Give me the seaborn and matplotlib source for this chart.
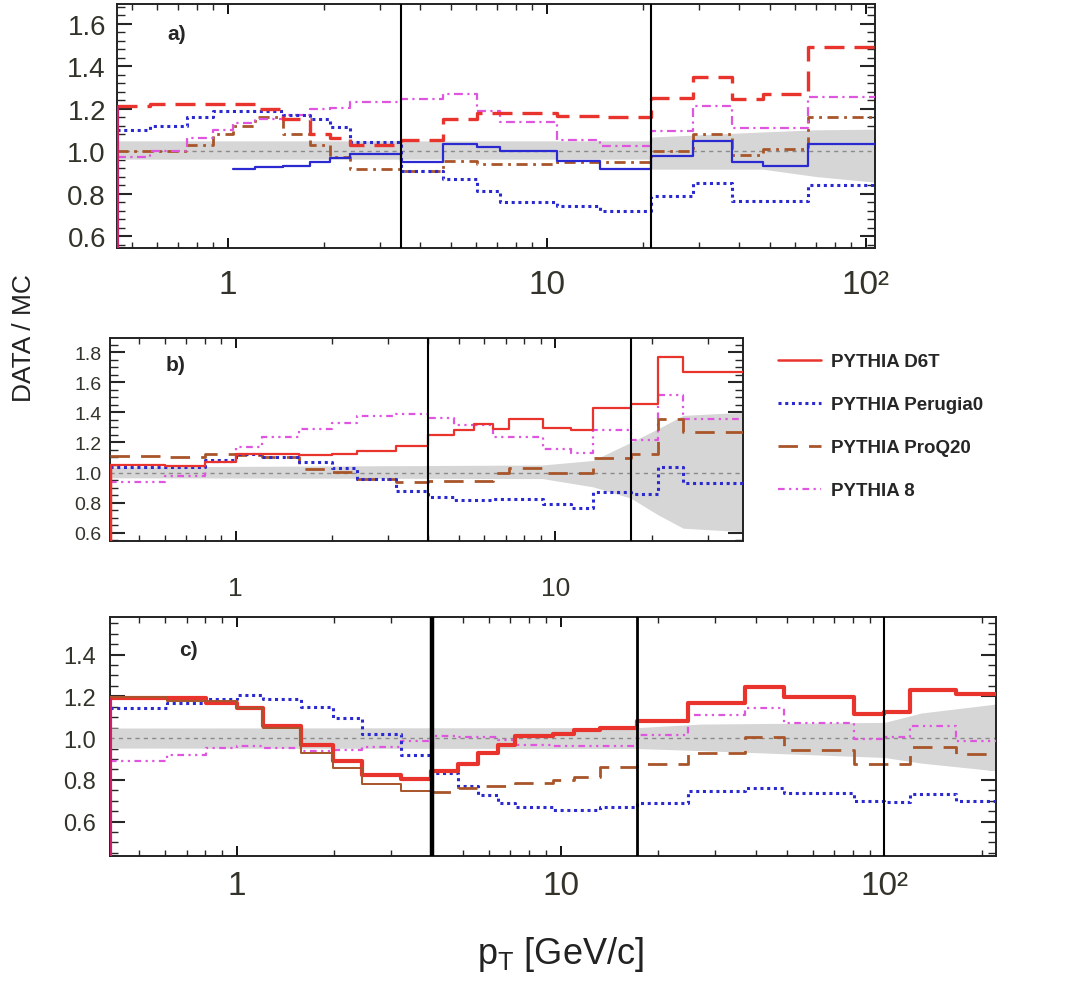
import numpy as np
import pandas as pd
import matplotlib
matplotlib.use("Agg")
import matplotlib.pyplot as plt
from matplotlib.lines import Line2D
from matplotlib.ticker import FixedLocator, FixedFormatter, LogLocator, MultipleLocator, NullFormatter
import seaborn as sns

nan = np.nan

# ---------------- panel a ----------------
edges_a = [0.449, 0.569, 0.744, 0.897, 1.04, 1.215, 1.487, 1.807, 2.087, 2.41, 3.49,
           4.72, 6.04, 7.11, 10.75, 14.66, 21.2, 28.7, 38.0, 47.5, 65.8, 107]
red_a = [1.21, 1.22, 1.22, 1.22, 1.22, 1.20, 1.15, 1.08, 1.06, 1.03, 1.05,
         1.15, 1.18, 1.18, 1.165, 1.16, 1.25, 1.35, 1.245, 1.27, 1.49]
blue_solid_a = [nan, nan, nan, nan, 0.915, 0.923, 0.931, 0.947, 0.966, 0.986, 0.948,
                1.033, 1.02, 1.00, 0.955, 0.915, 0.977, 1.047, 0.948, 0.93, 1.033]
blue_dot_a = [1.10, 1.12, 1.16, 1.19, 1.19, 1.19, 1.17, 1.15, 1.115, 1.045, 0.905,
              0.87, 0.81, 0.76, 0.74, 0.72, 0.79, 0.85, 0.765, 0.765, 0.84]
magenta_a = [0.97, 1.0, 1.06, 1.10, 1.13, 1.15, 1.17, 1.20, 1.205, 1.23, 1.245,
             1.27, 1.19, 1.135, 1.05, 1.025, 1.095, 1.21, 1.11, 1.11, 1.255]
brown_a = [1.0, 1.0, 1.03, 1.08, 1.12, 1.16, 1.08, 1.03, 0.97, 0.915, 0.906,
           0.955, 0.94, 0.94, 0.948, 0.948, 1.0, 1.08, 0.98, 1.01, 1.16]
band_a_x = [0.449, 21.2, 21.2, 47.5, 70, 107]
band_a_lo = [0.962, 0.962, 0.915, 0.915, 0.88, 0.854]
band_a_hi = [1.048, 1.048, 1.066, 1.09, 1.10, 1.103]
dividers_a = [3.49, 21.2]

# ---------------- panel b ----------------
edges_b = [0.405, 0.602, 0.804, 1.0, 1.21, 1.576, 2.0, 2.4, 3.17, 4.0, 4.83,
           5.57, 6.36, 7.17, 9.13, 11.2, 13.1, 17.2, 20.9, 25.1, 38.6]
red_b = [1.053, 1.042, 1.07, 1.12, 1.12, 1.115, 1.12, 1.14, 1.175, 1.25,
         1.28, 1.325, 1.29, 1.353, 1.296, 1.28, 1.43, 1.457, 1.766, 1.667]
blue_b = [1.04, 1.04, 1.08, 1.12, 1.10, 1.07, 1.03, 0.96, 0.876, 0.84,
          0.817, 0.817, 0.823, 0.823, 0.79, 0.766, 0.872, 0.86, 1.037, 0.93]
brown_b = [1.11, 1.10, 1.126, 1.115, 1.10, 1.026, 1.004, 0.96, 0.94, 0.943,
           0.943, 0.943, 1.0, 1.03, 1.0, 1.0, 1.097, 1.12, 1.357, 1.27]
magenta_b = [0.934, 0.98, 1.07, 1.17, 1.236, 1.287, 1.33, 1.375, 1.39, 1.36,
             1.313, 1.313, 1.236, 1.236, 1.155, 1.13, 1.285, 1.214, 1.517, 1.357]
band_b_x = [0.405, 9.1, 13.1, 17.2, 20.9, 25.1, 38.6]
band_b_lo = [0.965, 0.96, 0.905, 0.83, 0.72, 0.63, 0.607]
band_b_hi = [1.037, 1.05, 1.08, 1.20, 1.29, 1.38, 1.40]
dividers_b = [4.0, 17.2]

# ---------------- panel c ----------------
edges_c = [0.406, 0.607, 0.806, 1.0, 1.206, 1.584, 1.983, 2.43, 3.22, 3.99, 4.82,
           5.56, 6.41, 7.21, 9.47, 11.0, 13.2, 17.2, 24.7, 37.0, 49.1, 80.7, 100,
           119.5, 166.5, 221]
red_c = [1.19, 1.19, 1.17, 1.145, 1.06, 0.968, 0.89, 0.824, 0.805, 0.84, 0.877,
         0.93, 0.968, 1.008, 1.019, 1.037, 1.048, 1.083, 1.167, 1.246, 1.195,
         1.115, 1.123, 1.23, 1.21]
brown_c = [1.196, 1.176, 1.176, 1.145, 1.048, 0.93, 0.856, 0.78, 0.745, 0.744,
           0.76, 0.771, 0.771, 0.784, 0.80, 0.815, 0.861, 0.877, 0.93, 1.003,
           0.942, 0.875, 0.875, 0.958, 0.923]
blue_c = [1.144, 1.168, 1.187, 1.208, 1.187, 1.149, 1.096, 1.02, 0.92, 0.835,
          0.768, 0.728, 0.688, 0.672, 0.657, 0.657, 0.672, 0.688, 0.748, 0.76,
          0.736, 0.70, 0.695, 0.732, 0.70]
magenta_c = [0.888, 0.92, 0.952, 0.963, 0.952, 0.936, 0.944, 0.957, 0.984, 1.008,
             1.005, 1.005, 0.99, 0.968, 0.96, 0.96, 0.96, 1.016, 1.11, 1.144,
             1.07, 0.995, 1.006, 1.06, 0.984]
band_c_x = [0.406, 17.2, 27, 100, 130, 221]
band_c_lo = [0.952, 0.95, 0.94, 0.907, 0.88, 0.843]
band_c_hi = [1.048, 1.05, 1.067, 1.075, 1.12, 1.163]
dividers_c = [4.0, 17.2, 100]

legend_labels = ["PYTHIA D6T", "PYTHIA Perugia0", "PYTHIA ProQ20", "PYTHIA 8"]

# ---------------- styles ----------------
RED = "#e8342c"
BLUE = "#2a2ad0"
BROWN = "#a8552a"
MAGENTA = "#e055e0"
TICKC = "#33332b"

LS_DOT = (0, (1.0, 1.2))
LS_LONG = (0, (7, 4))
LS_DASH_RED = (0, (6, 3))
LS_DDOT = (0, (3, 2, 1, 2, 1, 2))
LS_DASHDOT = (0, (4, 2, 1, 2))

sns.set_theme(style="ticks")
plt.rcParams["font.family"] = ["Liberation Sans", "DejaVu Sans"]

fig = plt.figure(figsize=(10.68, 9.87), dpi=100)
ax_a = fig.add_axes([117 / 1068, 1 - 249 / 987, (875 - 117) / 1068, (249 - 5) / 987])
ax_b = fig.add_axes([110 / 1068, 1 - 542 / 987, (743 - 110) / 1068, (542 - 339) / 987])
ax_c = fig.add_axes([110 / 1068, 1 - 857 / 987, (996 - 110) / 1068, (857 - 618) / 987])


def stairs(ax, edges, vals, i0=0, i1=None, **kw):
    """Histogram-style step line over bins i0..i1 using seaborn."""
    if i1 is None:
        i1 = len(vals)
    e = list(edges[i0:i1 + 1])
    v = list(vals[i0:i1]) + [vals[i1 - 1]]
    df = pd.DataFrame({"pt": e, "ratio": v}).dropna()
    sns.lineplot(data=df, x="pt", y="ratio", ax=ax, drawstyle="steps-post",
                 estimator=None, sort=False, legend=False, **kw)


def decorate(ax, xlim, ylim, band_x, band_lo, band_hi, dividers, div_lw,
             xt, xtl, xfs, xpad, yfs, ypad, yminor, letter, letter_xy):
    ax.set_xscale("log")
    ax.fill_between(band_x, band_lo, band_hi, color="#d6d6d6", lw=0, zorder=1)
    ax.axhline(1.0, color="#8a8a8a", lw=1.0, ls=(0, (3, 3)), zorder=2)
    for i, d in enumerate(dividers):
        ax.axvline(d, color="black", lw=div_lw[i], zorder=6)
    ax.set_xlim(*xlim)
    ax.set_ylim(*ylim)
    ax.xaxis.set_major_locator(FixedLocator(xt))
    ax.xaxis.set_major_formatter(FixedFormatter(xtl))
    ax.xaxis.set_minor_locator(LogLocator(base=10, subs=np.arange(2, 10)))
    ax.xaxis.set_minor_formatter(NullFormatter())
    ax.yaxis.set_major_locator(MultipleLocator(0.2))
    ax.yaxis.set_minor_locator(MultipleLocator(yminor))
    ax.yaxis.set_major_formatter(plt.FuncFormatter(lambda v, p: f"{v:.1f}"))
    ax.tick_params(axis="x", which="major", direction="in", top=True, bottom=True,
                   length=7, width=1.3, labelsize=xfs, pad=xpad, colors="black",
                   labelcolor=TICKC)
    ax.tick_params(axis="x", which="minor", direction="in", top=True, bottom=True,
                   length=4, width=1.0)
    ax.tick_params(axis="y", which="major", direction="in", left=True, right=True,
                   length=11, width=1.5, labelsize=yfs, pad=ypad, labelcolor=TICKC)
    ax.tick_params(axis="y", which="minor", direction="in", left=True, right=True,
                   length=6, width=1.0)
    for s in ax.spines.values():
        s.set_linewidth(1.4)
        s.set_color("#222222")
    ax.set_xlabel("")
    ax.set_ylabel("")
    ax.text(letter_xy[0], letter_xy[1], letter, transform=ax.transAxes,
            fontsize=15, fontweight="bold", ha="center", va="center", zorder=8)


# ---- panel a
ax = ax_a
stairs(ax, edges_a, brown_a, color=BROWN, lw=2.0, linestyle=LS_DASHDOT, zorder=3)
stairs(ax, edges_a, magenta_a, color=MAGENTA, lw=1.6, linestyle=LS_DASHDOT, zorder=3)
stairs(ax, edges_a, blue_dot_a, color=BLUE, lw=2.2, linestyle=LS_DOT, zorder=4)
stairs(ax, edges_a, blue_solid_a, color=BLUE, lw=1.6, linestyle="-", zorder=4)
stairs(ax, edges_a, red_a, color=RED, lw=2.4, linestyle=LS_DASH_RED, zorder=5)
ax.vlines(edges_a[0], 0, red_a[0], color="#d0206a", lw=3, zorder=7)
decorate(ax, (0.449, 107), (0.544, 1.692), band_a_x, band_a_lo, band_a_hi,
         dividers_a, [1.5, 1.5], [1, 10, 100], ["1", "10", "10²"], 24, 15,
         20, 8, 0.04, "a)", (0.079, 0.881))

# ---- panel b
ax = ax_b
stairs(ax, edges_b, magenta_b, color=MAGENTA, lw=1.6, linestyle=LS_DDOT, zorder=3)
stairs(ax, edges_b, brown_b, color=BROWN, lw=2.0, linestyle=LS_LONG, zorder=3)
stairs(ax, edges_b, blue_b, color=BLUE, lw=2.2, linestyle=LS_DOT, zorder=4)
stairs(ax, edges_b, red_b, color=RED, lw=1.6, linestyle="-", zorder=5)
ax.vlines(edges_b[0], 0, red_b[0], color=RED, lw=2.5, zorder=7)
decorate(ax, (0.405, 38.6), (0.545, 1.894), band_b_x, band_b_lo, band_b_hi,
         dividers_b, [1.5, 1.5], [1, 10], ["1", "10"], 19, 25,
         14, 6, 0.05, "b)", (0.104, 0.867))

# ---- panel c
ax = ax_c
stairs(ax, edges_c, magenta_c, color=MAGENTA, lw=1.6, linestyle=LS_DDOT, zorder=3)
stairs(ax, edges_c, blue_c, color=BLUE, lw=2.2, linestyle=LS_DOT, zorder=4)
stairs(ax, edges_c, red_c, color=RED, lw=3.0, linestyle="-", zorder=5)
stairs(ax, edges_c, brown_c, i0=0, i1=9, color=BROWN, lw=1.4, linestyle="-", zorder=5)
stairs(ax, edges_c, brown_c, i0=9, color=BROWN, lw=2.0, linestyle=LS_LONG, zorder=5)
ax.vlines(edges_c[0], 0, red_c[0], color="#d0206a", lw=3, zorder=7)
decorate(ax, (0.406, 221), (0.435, 1.58), band_c_x, band_c_lo, band_c_hi,
         dividers_c, [3.2, 2.0, 1.5], [1, 10, 100], ["1", "10", "10²"], 24, 10,
         17, 10, 0.05, "c)", (0.088, 0.862))

# ---- figure-level labels and legend
fig.text(24 / 1068, 1 - 338 / 987, "DATA / MC", rotation=90, fontsize=19,
         ha="center", va="center", color="#222222")
fig.text(560 / 1068, 1 - 955 / 987, r"p$_\mathregular{T}$ [GeV/c]", fontsize=26,
         ha="center", va="center", color="#222222")

handles = [
    Line2D([], [], color=RED, lw=1.8, linestyle="-"),
    Line2D([], [], color=BLUE, lw=2.2, linestyle=LS_DOT),
    Line2D([], [], color=BROWN, lw=2.0, linestyle=LS_LONG),
    Line2D([], [], color=MAGENTA, lw=1.6, linestyle=LS_DDOT),
]
fig.legend(handles, legend_labels, loc="upper left",
           bbox_to_anchor=(778 / 1068, 1 - 354 / 987), frameon=False,
           prop={"size": 13.5, "weight": "bold"}, handlelength=2.3,
           handletextpad=0.55, labelspacing=1.38, borderpad=0, borderaxespad=0)

fig.savefig("out.png", dpi=100)
